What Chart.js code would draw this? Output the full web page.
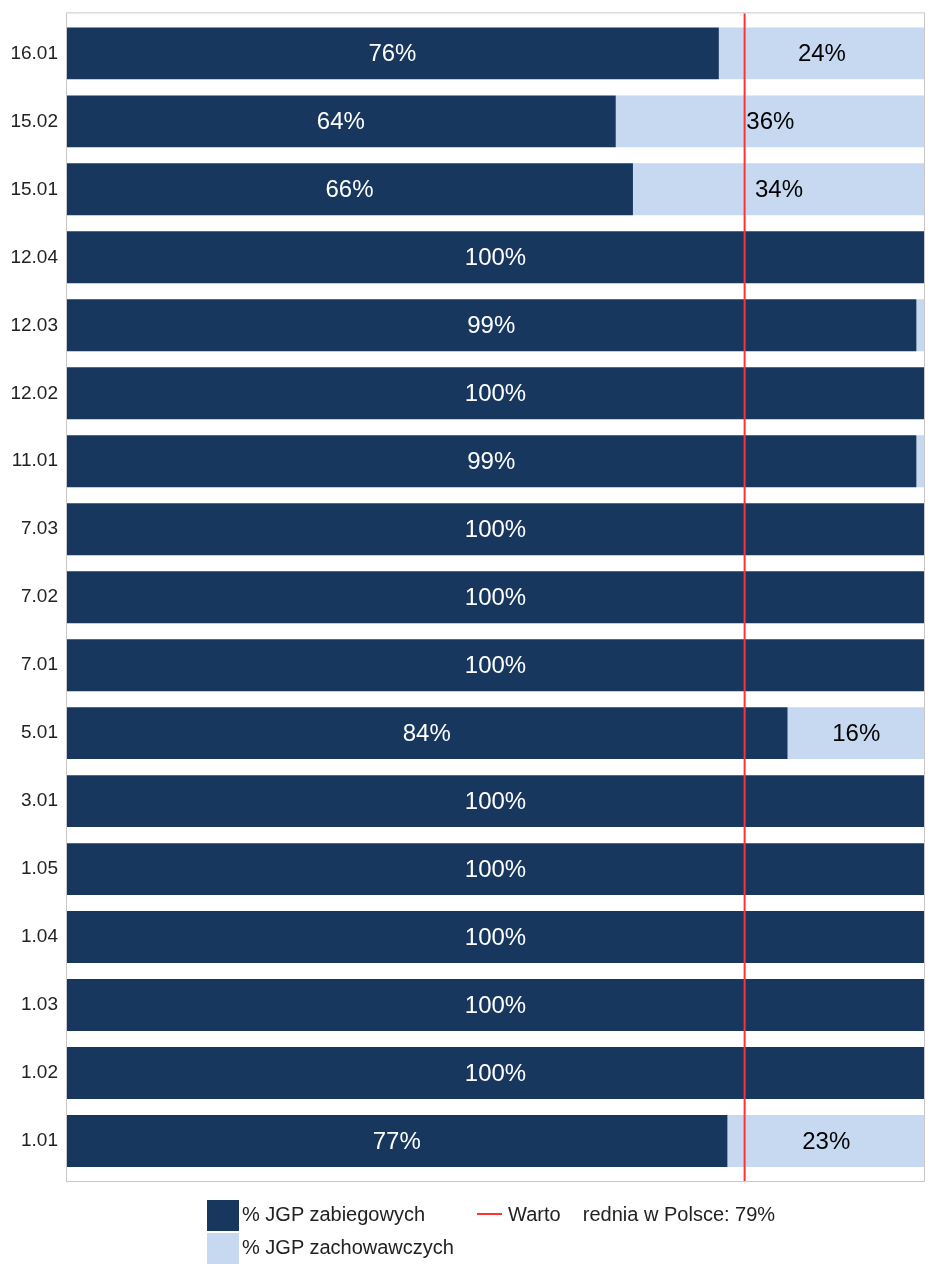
<!DOCTYPE html>
<html>
<head>
<meta charset="utf-8">
<script src="https://cdn.jsdelivr.net/npm/chart.js@4/dist/chart.umd.min.js"></script>
<style>
  body { margin: 0; background: #fff; font-family: "Liberation Sans", Arial, sans-serif; }
  #wrap { position: relative; width: 928px; height: 1264px; }
  .legend { position: absolute; font-size: 20px; color: #222; white-space: pre; }
  .sq { position: absolute; width: 32px; height: 31px; }
</style>
</head>
<body>
<div id="wrap">
  <canvas id="chart" width="928" height="1264"></canvas>
  <div class="sq" style="left:207px; top:1200px; background:#17375e"></div>
  <div class="legend" style="left:242px; top:1203px">% JGP zabiegowych</div>
  <div class="sq" style="left:207px; top:1233px; background:#c6d9f1"></div>
  <div class="legend" style="left:242px; top:1236px">% JGP zachowawczych</div>
  <div style="position:absolute; left:477px; top:1213px; width:25px; height:2px; background:#f33"></div>
  <div class="legend" style="left:508px; top:1203px">Warto    rednia w Polsce: 79%</div>
</div>
<script>
const categories = ['16.01', '15.02', '15.01', '12.04', '12.03', '12.02', '11.01', '7.03', '7.02', '7.01',
                    '5.01', '3.01', '1.05', '1.04', '1.03', '1.02', '1.01'];
const zabiegowe = [76, 64, 66, 100, 99, 100, 99, 100, 100, 100, 84, 100, 100, 100, 100, 100, 77];
const zachowawcze = [24, 36, 34, 0, 1, 0, 1, 0, 0, 0, 16, 0, 0, 0, 0, 0, 23];
const sredniaPolska = 79;

const labelColors = ['#ffffff', '#000000'];

// frame around the plot + red average line
const frameAndLine = {
    id: 'frameAndLine',
    afterDatasetsDraw(chart) {
        const {ctx, chartArea} = chart;
        const x = chart.scales.x.getPixelForValue(sredniaPolska);
        ctx.save();
        ctx.strokeStyle = '#c8c8c8';
        ctx.lineWidth = 1;
        ctx.strokeRect(chartArea.left + 0.5, chartArea.top - 6.5, chartArea.right - chartArea.left - 1, chartArea.bottom - chartArea.top + 13);
        ctx.strokeStyle = '#f33';
        ctx.lineWidth = 2;
        ctx.beginPath();
        ctx.moveTo(x, chartArea.top - 6);
        ctx.lineTo(x, chartArea.bottom + 6);
        ctx.stroke();
        ctx.restore();
    }
};

// percentage labels inside the segments
const barLabels = {
    id: 'barLabels',
    afterDatasetsDraw(chart) {
        const {ctx} = chart;
        ctx.save();
        ctx.font = '24px "Liberation Sans", Arial, sans-serif';
        ctx.textAlign = 'center';
        ctx.textBaseline = 'middle';
        chart.data.datasets.forEach((ds, i) => {
            const meta = chart.getDatasetMeta(i);
            ctx.fillStyle = labelColors[i];
            meta.data.forEach((bar, j) => {
                const v = ds.data[j];
                if (v < 5) return;
                ctx.fillText(v + '%', (bar.x + bar.base) / 2, bar.y + 1);
            });
        });
        ctx.restore();
    }
};

new Chart(document.getElementById('chart'), {
    type: 'bar',
    data: {
        labels: categories,
        datasets: [
            { label: '% JGP zabiegowych', data: zabiegowe, backgroundColor: '#17375e' },
            { label: '% JGP zachowawczych', data: zachowawcze, backgroundColor: '#c6d9f1' }
        ]
    },
    options: {
        indexAxis: 'y',
        responsive: false,
        animation: false,
        layout: { padding: { top: 18, right: 3, bottom: 89, left: 0 } },
        datasets: { bar: { categoryPercentage: 1, barPercentage: 0.764 } },
        plugins: { legend: { display: false }, tooltip: { enabled: false } },
        scales: {
            x: { stacked: true, min: 0, max: 100, display: false },
            y: {
                stacked: true,
                grid: { display: false, drawTicks: false },
                border: { display: false },
                ticks: { color: '#222', padding: 8, font: { family: '"Liberation Sans", Arial, sans-serif', size: 19 } },
                afterFit(scale) { scale.width = 66; }
            }
        }
    },
    plugins: [frameAndLine, barLabels]
});
</script>
</body>
</html>
